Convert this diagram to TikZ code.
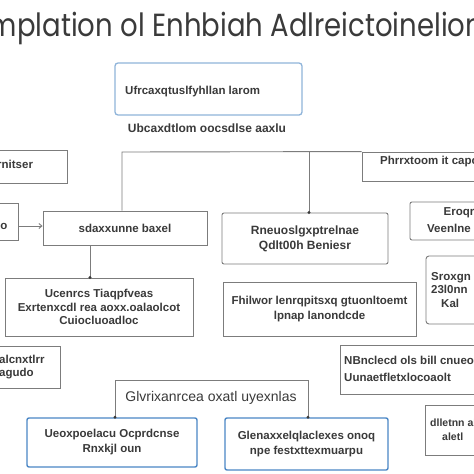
\documentclass[tikz,border=0pt]{standalone}
\usepackage{fontspec}
\setmainfont{Liberation Sans}
\newfontfamily\titlefont{Poppins}
\newfontfamily\bfont{Liberation Sans Bold}
\usetikzlibrary{arrows.meta}
\definecolor{bordergray}{HTML}{7C7C7C}
\definecolor{boxblue}{HTML}{4A86C5}
\definecolor{lightblue}{HTML}{8FB4DA}
\definecolor{inkgray}{HTML}{3A3A3A}
\tikzset{
  gbox/.style={draw=bordergray, line width=0.9pt, fill=white, inner sep=2pt, align=center, text=inkgray, font=\bfont\fontsize{11.5}{13.5}\selectfont},
  bbox/.style={draw=boxblue, line width=1.4pt, rounded corners=2pt, fill=white, inner sep=2pt, align=center, text=inkgray, font=\bfont\fontsize{11.5}{15}\selectfont},
  plain/.style={text=inkgray, inner sep=0pt, font=\bfont\fontsize{11.5}{13.5}\selectfont},
  conn/.style={draw=bordergray, line width=0.9pt},
  dot/.style={circle, fill=inkgray, inner sep=0pt, minimum size=3.2pt}
}
\begin{document}
\begin{tikzpicture}[x=1pt,y=-1pt]
\useasboundingbox (0,0) rectangle (474,474);
\fill[white] (0,0) rectangle (474,474);
\begin{scope}
\clip (0,0) rectangle (474,474);
% title
\node[text=inkgray, inner sep=0pt] (title) at (236,28) {\scalebox{0.86}[1]{\titlefont\fontsize{32}{32}\selectfont mplation ol Enhbiah Adlreictoinelion}};
% top box
\node[draw=lightblue, line width=1.3pt, rounded corners=3pt, minimum width=187pt, minimum height=52pt, fill=white] (top) at (208.5,89) {};
\node[plain, anchor=west, font=\bfont\fontsize{11.5}{13}\selectfont] (toptxt) at (125,92) {Ufrcaxqtuslfyhllan larom};
\node[plain, font=\bfont\fontsize{12}{13}\selectfont] (cap) at (207,128) {Ubcaxdtlom oocsdlse aaxlu};
% boxes
\node[gbox, minimum width=77pt, minimum height=33pt] (rnit) at (28.5,166.5) {};
\node[plain, anchor=west] at (-3,164) {rnitser};
\node[gbox, minimum width=122pt, minimum height=29pt] (phrr) at (423,166.5) {};
\node[plain, anchor=west] at (380,162) {Phrrxtoom it capo};
\node[gbox, minimum width=28pt, minimum height=37pt] (sl) at (4,221.5) {};
\node[plain] at (4,226) {o};
\node[gbox, minimum width=164pt, minimum height=34pt] (sdax) at (125,228) {sdaxxunne baxel};
\node[gbox, minimum width=188pt, minimum height=58pt] (lowleft) at (99,307) {Ucenrcs Tiaqpfveas\\Exrtenxcdl rea aoxx.oalaolcot\\Cuiocluoadloc};
\node[gbox, rounded corners=2pt, minimum width=166pt, minimum height=51pt, font=\bfont\fontsize{12}{15}\selectfont] (mid) at (305,238.5) {Rneuoslgxptrelnae\\Qdlt00h Beniesr};
\node[gbox, minimum width=193pt, minimum height=54pt, font=\bfont\fontsize{11.5}{15}\selectfont] (midlow) at (319.5,309) {Fhilwor lenrqpitsxq gtuonltoemt\\lpnap lanondcde};
\node[gbox, rounded corners=2pt, minimum width=74pt, minimum height=38pt] (eroqr) at (447,221) {};
\node[plain] at (459,213) {Eroqr};
\node[plain, anchor=west] at (427,228) {Veenlne};
\node[gbox, rounded corners=3pt, minimum width=58pt, minimum height=68pt] (srox) at (455,290) {};
\node[plain, anchor=west, align=left] at (431,290) {Sroxgn\\23l0nn\\\hspace*{10pt}Kal};
\node[gbox, minimum width=70pt, minimum height=42pt] (alcn) at (25,367) {};
\node[plain, anchor=west, align=left] at (-1,367) {alcnxtlrr\\agudo};
\node[gbox, minimum width=144pt, minimum height=49pt] (nbn) at (412,369.5) {};
\node[plain, anchor=west, align=left, font=\bfont\fontsize{11.5}{17}\selectfont] at (344,369) {NBnclecd ols bill cnueoc\\Uunaetfletxlocoaolt};
\node[gbox, minimum width=59pt, minimum height=50pt] (dllet) at (454.5,430) {};
\node[plain, anchor=west, align=left, font=\bfont\fontsize{10.5}{14}\selectfont] at (430,430) {dlletnn aletl\\\hspace*{12pt}aletl};
\node[bbox, minimum width=170pt, minimum height=49pt] (blue1) at (112,442.5) {Ueoxpoelacu Ocprdcnse\\Rnxkjl oun};
\node[bbox, minimum width=163pt, minimum height=52pt] (blue2) at (306.5,444) {Glenaxxelqlaclexes onoq\\npe festxttexmuarpu};
\node[plain, font=\fontsize{14}{16}\selectfont] (glvr) at (211,398) {Glvrixanrcea oxatl uyexnlas};
% connectors
\coordinate (j1) at (122,152);
\coordinate (j2) at (309,152);
\draw[conn] (phrr.north west) -- (j1) -- (j1 |- sdax.north);
\draw[conn] (j2) -- (j2 |- mid.north);
\node[dot] at (j2 |- mid.north) {};
\draw[conn, -{Straight Barb[length=3pt,width=5pt]}] (sl.east |- 0,226) -- (sdax.west |- 0,226);
\coordinate (j3) at (90,250);
\draw[conn] (sdax.south -| j3) -- (lowleft.north -| j3);
\node[dot] at (lowleft.north -| j3) {};
\coordinate (j4) at (115,380);
\coordinate (j5) at (308,380);
\draw[conn] (blue1.north -| j4) -- (j4) -- (j5) -- (j5 |- blue2.north);
\node[dot] at (blue1.north -| j4) {};
\node[dot] at (blue2.north -| j5) {};
\end{scope}
\end{tikzpicture}
\end{document}
